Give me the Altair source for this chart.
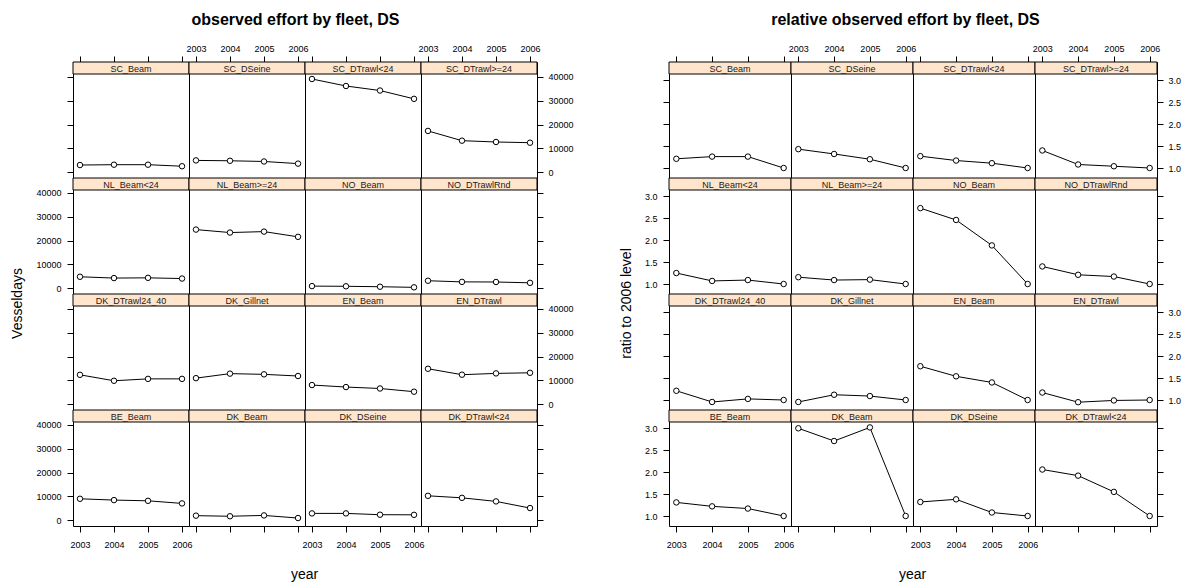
import altair as alt
import pandas as pd

years = [2003, 2004, 2005, 2006]

fleets = [
    "SC_Beam", "SC_DSeine", "SC_DTrawl<24", "SC_DTrawl>=24",
    "NL_Beam<24", "NL_Beam>=24", "NO_Beam", "NO_DTrawlRnd",
    "DK_DTrawl24_40", "DK_Gillnet", "EN_Beam", "EN_DTrawl",
    "BE_Beam", "DK_Beam", "DK_DSeine", "DK_DTrawl<24",
]

# observed effort (vessel days) per fleet, 2003-2006
effort = {
    "SC_Beam": [2950, 3100, 3100, 2450],
    "SC_DSeine": [4900, 4750, 4450, 3550],
    "SC_DTrawl<24": [39150, 36200, 34300, 30800],
    "SC_DTrawl>=24": [17300, 13200, 12650, 12350],
    "NL_Beam<24": [4750, 4200, 4300, 4000],
    "NL_Beam>=24": [24600, 23350, 23750, 21550],
    "NO_Beam": [820, 740, 560, 300],
    "NO_DTrawlRnd": [3080, 2600, 2550, 2200],
    "DK_DTrawl24_40": [12300, 9800, 10600, 10600],
    "DK_Gillnet": [10900, 12800, 12500, 11800],
    "EN_Beam": [8000, 7150, 6550, 5200],
    "EN_DTrawl": [14850, 12350, 12900, 13150],
    "BE_Beam": [8950, 8400, 8100, 7000],
    "DK_Beam": [1850, 1600, 1950, 850],
    "DK_DSeine": [2800, 2800, 2250, 2200],
    "DK_DTrawl<24": [10200, 9350, 7850, 5050],
}

# effort relative to the 2006 level
relative = {
    "SC_Beam": [1.21, 1.26, 1.26, 1.0],
    "SC_DSeine": [1.43, 1.32, 1.20, 1.0],
    "SC_DTrawl<24": [1.27, 1.17, 1.11, 1.0],
    "SC_DTrawl>=24": [1.40, 1.08, 1.04, 1.0],
    "NL_Beam<24": [1.25, 1.07, 1.09, 1.0],
    "NL_Beam>=24": [1.155, 1.09, 1.10, 1.0],
    "NO_Beam": [2.73, 2.46, 1.88, 1.0],
    "NO_DTrawlRnd": [1.40, 1.21, 1.17, 1.0],
    "DK_DTrawl24_40": [1.21, 0.955, 1.025, 1.0],
    "DK_Gillnet": [0.955, 1.12, 1.09, 1.0],
    "EN_Beam": [1.77, 1.54, 1.40, 1.0],
    "EN_DTrawl": [1.17, 0.95, 0.99, 1.0],
    "BE_Beam": [1.31, 1.22, 1.17, 1.0],
    "DK_Beam": [3.0, 2.71, 3.02, 1.0],
    "DK_DSeine": [1.32, 1.38, 1.08, 1.0],
    "DK_DTrawl<24": [2.06, 1.92, 1.55, 1.0],
}

effort_ticks = [0, 10000, 20000, 30000, 40000]
relative_ticks = [1.0, 1.5, 2.0, 2.5, 3.0]

FONT = "Liberation Sans"
CELL_H = 116     # panel incl. strip
STRIP_H = 12
STRIP_FILL = "#ffe5cc"
X_DOMAIN = [2002.795, 2006.205]


def panel(name, values, r, c, w, y_domain, y_ticks, y_fmt):
    df = pd.DataFrame({"year": years, "value": values})

    if r == 0:
        xaxis = alt.Axis(orient="top", values=years, format="d", labels=(c % 2 == 1),
                         labelPadding=3, title=None)
    elif r == 3:
        xaxis = alt.Axis(orient="bottom", values=years, format="d", labels=(c % 2 == 0),
                         labelPadding=8, title=None)
    else:
        xaxis = None

    if c == 0:
        yaxis = alt.Axis(orient="left", values=y_ticks, format=y_fmt, labels=(r % 2 == 1),
                         labelPadding=6, title=None)
    elif c == 3:
        yaxis = alt.Axis(orient="right", values=y_ticks, format=y_fmt, labels=(r % 2 == 0),
                         labelPadding=5, title=None)
    else:
        yaxis = None

    x = alt.X("year:Q", scale=alt.Scale(domain=X_DOMAIN, nice=False, zero=False), axis=xaxis)
    y = alt.Y("value:Q", scale=alt.Scale(domain=y_domain, nice=False, zero=False), axis=yaxis)

    base = alt.Chart(df).encode(x=x, y=y)
    line = base.mark_line(color="black", strokeWidth=1)
    pts = base.mark_point(shape="circle", size=30, stroke="black", fill="white",
                          fillOpacity=1, strokeWidth=1, filled=False, opacity=1)

    lab = pd.DataFrame({"fleet": [name]})
    strip = alt.Chart(lab).mark_rect(fill=STRIP_FILL, stroke="black", strokeWidth=1).encode(
        x=alt.value(0), x2=alt.value(w), y=alt.value(0), y2=alt.value(STRIP_H)
    )
    strip_text = alt.Chart(lab).mark_text(
        font=FONT, fontSize=9, color="#1a1a1a", baseline="middle", align="center"
    ).encode(x=alt.value(w / 2), y=alt.value(STRIP_H / 2 + 0.5), text="fleet:N")

    return alt.layer(line, pts, strip, strip_text).properties(width=w, height=CELL_H)


def block(series, y_domain, y_ticks, y_fmt, w, main, ylab, main_dx):
    panels = []
    for i, name in enumerate(fleets):
        r, c = divmod(i, 4)
        panels.append(panel(name, series[name], r, c, w, y_domain, y_ticks, y_fmt))
    grid = alt.concat(*panels, columns=4, spacing=0, bounds="flush", align="each")
    with_x = alt.vconcat(grid, title=alt.Title("year", orient="bottom", anchor="middle",
                                               font=FONT, fontSize=14, fontWeight="normal",
                                               offset=18))
    with_y = alt.hconcat(with_x, title=alt.Title(ylab, orient="left", anchor="middle",
                                                 font=FONT, fontSize=14, fontWeight="normal",
                                                 offset=10, dx=9))
    return alt.vconcat(with_y, title=alt.Title(main, anchor="middle", font=FONT, fontSize=16,
                                               fontWeight="bold", offset=16, dx=main_dx))


left = block(effort, [-2500, 46300], effort_ticks, "d", 116,
             "observed effort by fleet, DS", "Vesseldays", 3)
right = block(relative, [0.772, 3.417], relative_ticks, ".1f", 122,
              "relative observed effort by fleet, DS", "ratio to 2006 level", 5)

chart = alt.hconcat(left, right, spacing=45).properties(
    padding={"left": 11, "top": 11, "right": 5, "bottom": 5},
    background="white",
).configure(font=FONT).configure_view(
    stroke="black", strokeWidth=1
).configure_axis(
    domain=False, grid=False, tickColor="black", tickSize=6, tickWidth=1,
    labelFont=FONT, labelFontSize=9, labelColor="black",
    labelFlush=False, labelOverlap=False,
)

chart.save("out.html", embed_options={"renderer": "svg", "actions": False})
